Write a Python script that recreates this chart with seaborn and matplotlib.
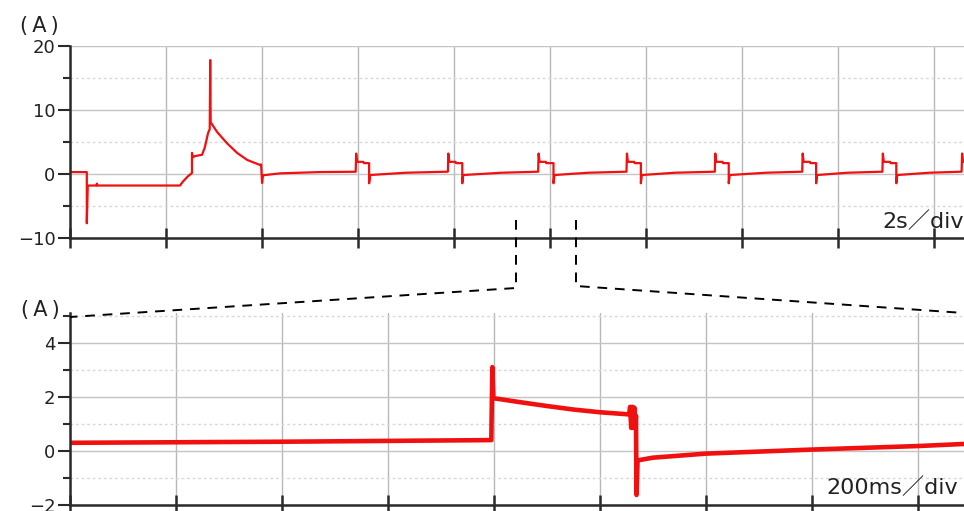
import pandas as pd
import matplotlib
matplotlib.use("Agg")
import matplotlib.pyplot as plt
from matplotlib.lines import Line2D
from matplotlib.ticker import MultipleLocator
import seaborn as sns

# === DATA (read off the scope capture) ===
# upper trace, 2 s/div  (time in s, current in A)
top_t = [0.00, 0.35, 0.35, 0.37, 0.55, 0.56, 0.57, 2.29, 2.35, 2.45, 2.54, 2.54,
         2.56, 2.60, 2.75, 2.81, 2.875, 2.91, 2.92, 2.93, 3.06, 3.27, 3.48, 3.69,
         3.96, 3.98, 4.00, 4.02, 4.375, 5.20, 5.95,
         5.96, 5.98, 6.11, 6.12, 6.23, 6.23, 6.25, 7.00, 7.87,
         7.88, 7.90, 8.03, 8.04, 8.17, 8.17, 8.19, 9.00, 9.75,
         9.76, 9.78, 9.91, 9.92, 10.07, 10.07, 10.09, 10.80, 11.59,
         11.60, 11.62, 11.75, 11.76, 11.89, 11.89, 11.91, 12.60, 13.43,
         13.44, 13.46, 13.59, 13.60, 13.72, 13.72, 13.74, 14.50, 15.25,
         15.26, 15.28, 15.41, 15.42, 15.54, 15.54, 15.56, 16.20, 16.92,
         16.93, 16.95, 17.08, 17.09, 17.21, 17.21, 17.23, 17.90, 18.57,
         18.58, 18.60, 18.70]
top_a = [0.3, 0.3, -7.7, -1.8, -1.8, -1.5, -1.8, -1.8, -1.2, -0.4, 0.15, 3.3,
         2.6, 2.8, 3.0, 4.2, 6.4, 7.0, 17.8, 8.1, 6.6, 4.8, 3.3, 2.2,
         1.4, 1.5, -1.4, -0.2, 0.1, 0.3, 0.35,
         3.2, 1.9, 1.9, 1.7, 1.7, -1.45, -0.16, 0.2, 0.36,
         3.2, 1.9, 1.9, 1.7, 1.7, -1.45, -0.16, 0.2, 0.36,
         3.2, 1.9, 1.9, 1.7, 1.7, -1.45, -0.16, 0.2, 0.36,
         3.2, 1.9, 1.9, 1.7, 1.7, -1.45, -0.16, 0.2, 0.36,
         3.2, 1.9, 1.9, 1.7, 1.7, -1.45, -0.16, 0.2, 0.36,
         3.2, 1.9, 1.9, 1.7, 1.7, -1.45, -0.16, 0.2, 0.36,
         3.2, 1.9, 1.9, 1.7, 1.7, -1.45, -0.16, 0.2, 0.36,
         3.2, 1.9, 1.9]

# lower trace, 200 ms/div zoom (time in s, current in A)
zoom_t = [0.000, 0.400, 0.795, 0.797, 0.799, 0.850, 0.900, 0.950, 1.000, 1.055,
          1.057, 1.059, 1.061, 1.063, 1.065, 1.067, 1.068, 1.069, 1.071, 1.100,
          1.200, 1.400, 1.600, 1.690]
zoom_a = [0.30, 0.34, 0.40, 3.10, 1.95, 1.80, 1.66, 1.53, 1.43, 1.35,
          1.63, 0.85, 1.63, 0.85, 1.60, 0.90, 1.30, -1.63, -0.35, -0.25,
          -0.10, 0.05, 0.18, 0.26]

top_ylim = (-10, 20)
zoom_ylim = (-2, 5.1)
top_xlim = (0, 18.62)
zoom_xlim = (0, 1.687)

W, H = 964, 511


def fx(px):
    return px / W


def fy(py):
    return 1 - py / H


sns.set_style("white")
plt.rcParams["font.family"] = ["DejaVu Sans", "Noto Sans CJK JP"]
mixed = ["DejaVu Sans", "Noto Sans CJK JP"]

fig = plt.figure(figsize=(W / 100, H / 100), dpi=100)
ax_top = fig.add_axes([fx(70), fy(238), fx(964 - 70), (238 - 46) / H])
ax_zoom = fig.add_axes([fx(70), fy(505), fx(964 - 70), (505 - 313) / H])

df_top = pd.DataFrame({"t": top_t, "a": top_a})
df_zoom = pd.DataFrame({"t": zoom_t, "a": zoom_a})

sns.lineplot(data=df_top, x="t", y="a", ax=ax_top, sort=False, estimator=None,
             color="#f01010", linewidth=1.6)
sns.lineplot(data=df_zoom, x="t", y="a", ax=ax_zoom, sort=False, estimator=None,
             color="#f01010", linewidth=3.3)

# === AXES STYLE ===
for ax, xlim, ylim, xstep, ystep in [
    (ax_top, top_xlim, top_ylim, 2, 10),
    (ax_zoom, zoom_xlim, zoom_ylim, 0.2, 2),
]:
    ax.set_xlim(*xlim)
    ax.set_ylim(*ylim)
    ax.set_xlabel("")
    ax.set_ylabel("")
    ax.xaxis.set_major_locator(MultipleLocator(xstep))
    ax.yaxis.set_major_locator(MultipleLocator(ystep))
    ax.yaxis.set_minor_locator(MultipleLocator(ystep / 2))
    ax.set_xticklabels([])
    ax.spines[["top", "right"]].set_visible(False)
    for s in ["left", "bottom"]:
        ax.spines[s].set_color("#2a2a2a")
        ax.spines[s].set_linewidth(1.8)
    ax.tick_params(axis="x", which="major", direction="inout", length=14,
                   width=1.8, color="#2a2a2a", bottom=True)
    ax.tick_params(axis="y", which="major", direction="out", length=8.5,
                   width=1.5, color="#2a2a2a", labelsize=13, labelcolor="#222222",
                   pad=2, left=True)
    ax.tick_params(axis="y", which="minor", direction="out", length=5,
                   width=1.5, color="#2a2a2a", left=True)
    ax.grid(axis="x", which="major", color="#b8b8b8", linewidth=1.0)
    ax.grid(axis="y", which="major", color="#c4c4c4", linewidth=1.0)
    ax.grid(axis="y", which="minor", color="#d8d8d8", linewidth=1.0,
            linestyle=(0, (2, 2)))
    ax.set_axisbelow(True)
    ax.patch.set_alpha(0)

ax_top.set_yticks([-10, 0, 10, 20])
ax_zoom.set_yticks([-2, 0, 2, 4])

# unit labels and time base
fig.text(fx(39), fy(26), "(\u2009A\u2009)", fontsize=15, color="#222222",
         ha="center", va="center")
fig.text(fx(40), fy(310), "(\u2009A\u2009)", fontsize=15, color="#222222",
         ha="center", va="center")
fig.text(fx(882), fy(222), "2s／div", family=mixed, fontsize=16, color="#222222",
         ha="left", va="center")
fig.text(fx(826), fy(488), "200ms／div", family=mixed, fontsize=16, color="#222222",
         ha="left", va="center")

# dashed zoom guides
guides = [
    ([516, 516, 70], [220, 288, 317]),
    ([576, 576, 964], [220, 286, 313]),
]
for xs, ys in guides:
    fig.add_artist(Line2D([fx(x) for x in xs], [fy(y) for y in ys],
                          transform=fig.transFigure, color="black",
                          linewidth=1.4, linestyle=(0, (5, 4))))

fig.savefig("out.png", dpi=100)
